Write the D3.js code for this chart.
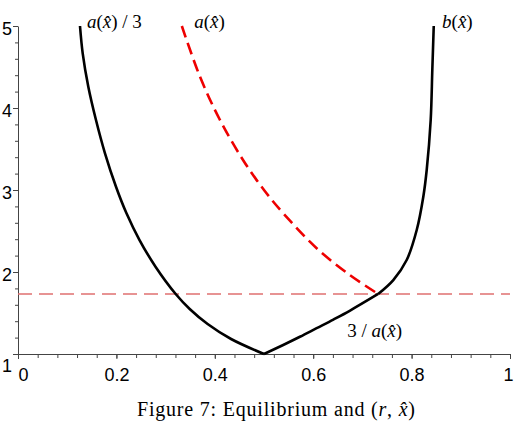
<!DOCTYPE html>
<html>
<head>
<meta charset="utf-8">
<script src="https://cdn.jsdelivr.net/npm/d3@7"></script>
<style>
  body { margin: 0; background: #fff; }
  svg { display: block; }
</style>
</head>
<body>
<svg></svg>
<script>
// tick labels
var xTicks = [0, 0.2, 0.4, 0.6, 0.8, 1];
var yTicks = [1, 2, 3, 4, 5];

// a(x)/3, left black branch
var aThirdX = [0.126, 0.1315, 0.1429, 0.1585, 0.1768, 0.1992, 0.2205, 0.247, 0.2795, 0.3205, 0.349, 0.3854, 0.4331, 0.5];
var aThirdY = [5.0, 4.667, 4.26, 3.854, 3.448, 3.04, 2.716, 2.39, 2.065, 1.732, 1.549, 1.366, 1.183, 1.0];

// 3/a(x), lower right black branch
var invAX = [0.5, 0.539, 0.573, 0.607, 0.641, 0.675, 0.732];
var invAY = [1.0, 1.11, 1.21, 1.315, 1.42, 1.53, 1.732];

// b(x), right black branch
var bX = [0.732, 0.7628, 0.790, 0.8104, 0.8238, 0.8307, 0.8388, 0.8421, 0.845];
var bY = [1.732, 1.902, 2.146, 2.512, 2.918, 3.244, 3.854, 4.463, 5.0];

// a(x), red dashed
var aX = [0.333, 0.370, 0.410, 0.458, 0.5, 0.539, 0.607, 0.675, 0.732];
var aY = [5.0, 4.38, 3.86, 3.36, 3.0, 2.717, 2.29, 1.96, 1.732];

// horizontal level
var levelX = [0, 1];
var levelY = [1.732, 1.732];

var svgWidth = 514, svgHeight = 428;

var svg = d3.select("svg")
            .attr("width", svgWidth)
            .attr("height", svgHeight);

var x = d3.scaleLinear().domain([0, 1]).range([18, 510]);
var y = d3.scaleLinear().domain([1, 5]).range([354, 26]);

var tickFont = "'Liberation Sans', Arial, sans-serif";

// minor ticks
svg.append("g")
   .attr("transform", "translate(0," + y(1) + ")")
   .call(d3.axisBottom(x).tickValues(d3.range(0, 1.001, 0.04)).tickSize(4).tickFormat(""))
   .call(function(g) { g.select(".domain").remove(); })
   .selectAll("line").attr("stroke", "#444");

svg.append("g")
   .attr("transform", "translate(" + x(0) + ",0)")
   .call(d3.axisLeft(y).tickValues(d3.range(1, 5.001, 0.2)).tickSize(3).tickFormat(""))
   .call(function(g) { g.select(".domain").remove(); })
   .selectAll("line").attr("stroke", "#444");

// major axes
var xAxis = svg.append("g")
   .attr("transform", "translate(0," + y(1) + ")")
   .call(d3.axisBottom(x).tickValues(xTicks).tickSize(5).tickPadding(9)
          .tickSizeOuter(0).tickFormat(function(d) { return String(d); }));
xAxis.selectAll("line, path").attr("stroke", "#444");
xAxis.selectAll("text")
     .attr("font-family", tickFont).attr("font-size", 18).attr("fill", "#000")
     .attr("dx", function(d) { return d === 0 ? 5 : (d === 1 ? -2 : 0); });

var yAxis = svg.append("g")
   .attr("transform", "translate(" + x(0) + ",0)")
   .call(d3.axisLeft(y).tickValues(yTicks).tickSize(5).tickPadding(1)
          .tickSizeOuter(0).tickFormat(function(d) { return String(d); }));
yAxis.selectAll("line, path").attr("stroke", "#444");
yAxis.selectAll("text")
     .attr("font-family", tickFont).attr("font-size", 18).attr("fill", "#000")
     .attr("transform", function(d) { return "translate(0," + (d === 1 ? 12 : 3) + ")"; });

// lines
var line = d3.line()
             .x(function(d) { return x(d[0]); })
             .y(function(d) { return y(d[1]); })
             .curve(d3.curveCatmullRom.alpha(0.5));

svg.append("path")
   .attr("d", line(d3.zip(levelX, levelY)))
   .attr("fill", "none")
   .attr("stroke", "#e07070")
   .attr("stroke-width", 1.6)
   .attr("stroke-dasharray", "14,7");

svg.append("path")
   .attr("d", line(d3.zip(aX, aY)))
   .attr("fill", "none")
   .attr("stroke", "#ee0000")
   .attr("stroke-width", 2.6)
   .attr("stroke-dasharray", "12,6");

[[aThirdX, aThirdY], [invAX, invAY], [bX, bY]].forEach(function(s) {
  svg.append("path")
     .attr("d", line(d3.zip(s[0], s[1])))
     .attr("fill", "none")
     .attr("stroke", "#000")
     .attr("stroke-width", 2.6)
     .attr("stroke-linejoin", "round");
});

// curve labels
var serif = "'Liberation Serif', 'Times New Roman', serif";

function mathLabel(px, py, parts) {
  var t = svg.append("text")
             .attr("x", x(px)).attr("y", y(py))
             .attr("font-family", serif).attr("font-size", 19);
  parts.forEach(function(p) {
    t.append("tspan").attr("font-style", p[1] ? "italic" : "normal").text(p[0]);
  });
}

mathLabel(0.14, 4.975, [["a", 1], ["(", 0], ["x\u0302", 1], [")", 0], [" / 3", 0]]);
mathLabel(0.358, 4.975, [["a", 1], ["(", 0], ["x\u0302", 1], [")", 0]]);
mathLabel(0.862, 4.975, [["b", 1], ["(", 0], ["x\u0302", 1], [")", 0]]);
mathLabel(0.669, 1.207, [["3 / ", 0], ["a", 1], ["(", 0], ["x\u0302", 1], [")", 0]]);

// caption
var cap = svg.append("text")
             .attr("x", 276).attr("y", 416)
             .attr("text-anchor", "middle")
             .attr("font-family", serif).attr("font-size", 20)
             .attr("textLength", 278).attr("lengthAdjust", "spacing");
cap.append("tspan").text("Figure 7: Equilibrium and (");
cap.append("tspan").attr("font-style", "italic").text("r");
cap.append("tspan").text(", ");
cap.append("tspan").attr("font-style", "italic").text("x\u0302");
cap.append("tspan").text(")");
</script>
</body>
</html>
